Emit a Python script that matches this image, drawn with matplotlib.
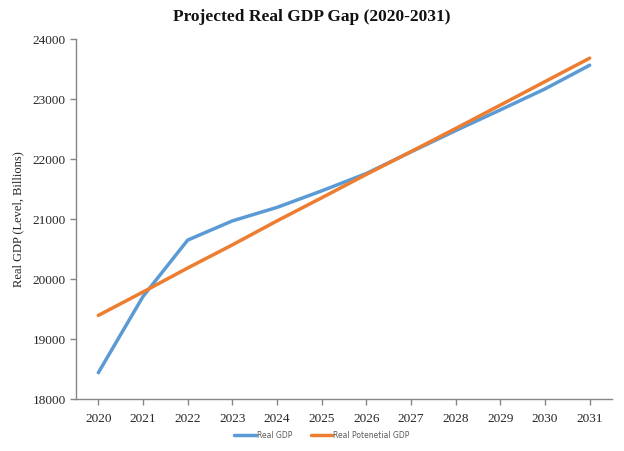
import matplotlib
matplotlib.use("Agg")
import matplotlib.pyplot as plt

years = [2020, 2021, 2022, 2023, 2024, 2025, 2026, 2027, 2028, 2029, 2030, 2031]
real_gdp = [18430, 19700, 20640, 20960, 21185, 21460, 21750, 22110, 22465, 22810, 23160, 23555]
potential_gdp = [19385, 19775, 20175, 20560, 20960, 21345, 21735, 22115, 22500, 22890, 23282, 23672]
yticks = [18000, 19000, 20000, 21000, 22000, 23000, 24000]

fig = plt.figure(figsize=(6.24, 4.52), dpi=100)
ax = fig.add_axes([76/624, 1-399.5/452, (612-76)/624, (399.5-39.5)/452])

ax.plot(years, real_gdp, color="#5B9BD5", lw=2.5, label="Real GDP", solid_capstyle="round")
ax.plot(years, potential_gdp, color="#ED7D31", lw=2.5, label="Real Potenetial GDP", solid_capstyle="round")

ax.set_xlim(2019.5, 2031.5)
ax.set_ylim(18000, 24000)
ax.set_xticks(years)
ax.set_xticklabels([str(y) for y in years])
ax.set_yticks(yticks)
ax.set_yticklabels([str(y) for y in yticks])

for s in ["top", "right"]:
    ax.spines[s].set_visible(False)
for s in ["left", "bottom"]:
    ax.spines[s].set_color("#868686")
    ax.spines[s].set_linewidth(1.0)
ax.tick_params(axis="both", direction="out", length=4, width=1, color="#868686",
               labelcolor="#262626", labelsize=9.5)
for lab in ax.get_xticklabels() + ax.get_yticklabels():
    lab.set_fontfamily("Liberation Serif")
ax.tick_params(axis="x", pad=6)

ax.set_ylabel("Real GDP (Level, Billions)", fontsize=9, family="Liberation Serif",
              color="#262626", labelpad=6)

fig.text(0.5, 1-17/452, "Projected Real GDP Gap (2020-2031)", ha="center", va="center",
         fontsize=12.5, fontweight="bold", family="Liberation Serif", color="#111111")

leg = fig.legend(loc="center", bbox_to_anchor=(322/624, 1-436/452), ncol=2, frameon=False,
                 fontsize=5.5, handlelength=2.8, handletextpad=0.1, columnspacing=2.5)
for t in leg.get_texts():
    t.set_color("#595959")

fig.savefig("out.png", dpi=100)
